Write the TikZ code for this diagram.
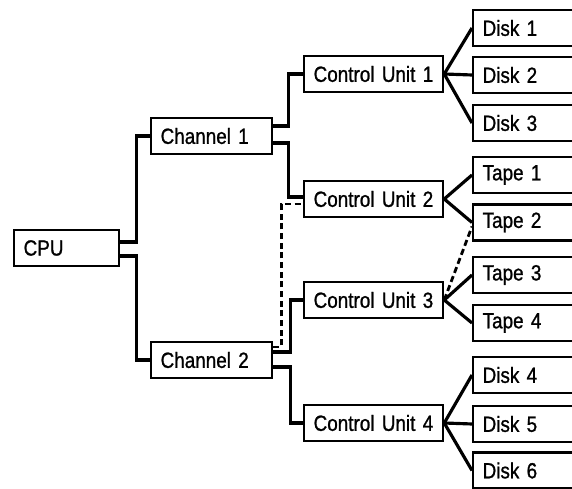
\documentclass[tikz,border=0pt]{standalone}
\usepackage{fontspec}
\setmainfont{Liberation Sans}[FakeStretch=0.86,FakeBold=1]
\usetikzlibrary{positioning,calc}
\tikzset{
  unit/.style={draw,line width=1.3pt,anchor=west,minimum height=0.72cm,
    inner xsep=0.19cm,align=left,font=\fontsize{12.5}{14}\selectfont},
  cpubox/.style={unit,text width=1.72cm},
  chanbox/.style={unit,text width=2.04cm},
  cubox/.style={unit,text width=2.4cm},
  devbox/.style={unit,text width=2.4cm},
  link/.style={line width=1.8pt},
  altlink/.style={line width=1.6pt,dash pattern=on 3.5pt off 2pt}
}
\begin{document}
\begin{tikzpicture}[x=0.02cm,y=-0.02cm]
  \useasboundingbox (0,0) rectangle (572,489);
  % processor and channels
  \node[cpubox] (cpu) at (13,248) {CPU};
  \node[chanbox] (ch1) at (150,136) {Channel~1};
  \node[chanbox] (ch2) at (150,360) {Channel~2};
  % control units
  \node[cubox] (cu1) at (303,74) {Control~Unit~1};
  \node[cubox] (cu2) at (303,199) {Control~Unit~2};
  \node[cubox] (cu3) at (303,300) {Control~Unit~3};
  \node[cubox] (cu4) at (303,423) {Control~Unit~4};
  % devices
  \node[devbox] (disk1) at (472,28) {Disk 1};
  \node[devbox] (disk2) at (472,75) {Disk 2};
  \node[devbox] (disk3) at (472,123) {Disk 3};
  \node[devbox] (tape1) at (472,175) {Tape 1};
  \node[devbox] (tape2) at (472,222.5) {Tape 2};
  \node[devbox] (tape3) at (472,275) {Tape 3};
  \node[devbox] (tape4) at (472,323) {Tape 4};
  \node[devbox] (disk4) at (472,375) {Disk 4};
  \node[devbox] (disk5) at (472,424) {Disk 5};
  \node[devbox] (disk6) at (472,470.5) {Disk 6};
  % cpu to channels
  \draw[link] ([yshift=0.12cm]cpu.east) -- ++(0.32cm,0) |- (ch1.west);
  \draw[link] ([yshift=-0.16cm]cpu.east) -- ++(0.32cm,0) |- (ch2.west);
  % channels to control units
  \draw[link] ([yshift=0.2cm]ch1.east) -- ++(0.3cm,0) |- (cu1.west);
  \draw[link] ([yshift=-0.14cm]ch1.east) -- ++(0.3cm,0) |- ([yshift=0.04cm]cu2.west);
  \draw[link] ([yshift=0.16cm]ch2.east) -- ++(0.34cm,0) |- (cu3.west);
  \draw[link] ([yshift=-0.14cm]ch2.east) -- ++(0.34cm,0) |- (cu4.west);
  \draw[altlink] ([yshift=0.26cm]ch2.east) -- ++(0.16cm,0) |- ([yshift=-0.1cm]cu2.west);
  % control units to devices
  \draw[link] (cu1.east) -- (disk1.west);
  \draw[link] (cu1.east) -- (disk2.west);
  \draw[link] (cu1.east) -- (disk3.west);
  \draw[link] (cu2.east) -- (tape1.west);
  \draw[link] (cu2.east) -- (tape2.west);
  \draw[altlink] (cu3.east) -- ([yshift=-0.08cm]tape2.west);
  \draw[link] (cu3.east) -- (tape3.west);
  \draw[link] (cu3.east) -- (tape4.west);
  \draw[link] (cu4.east) -- (disk4.west);
  \draw[link] (cu4.east) -- (disk5.west);
  \draw[link] (cu4.east) -- (disk6.west);
\end{tikzpicture}
\end{document}
